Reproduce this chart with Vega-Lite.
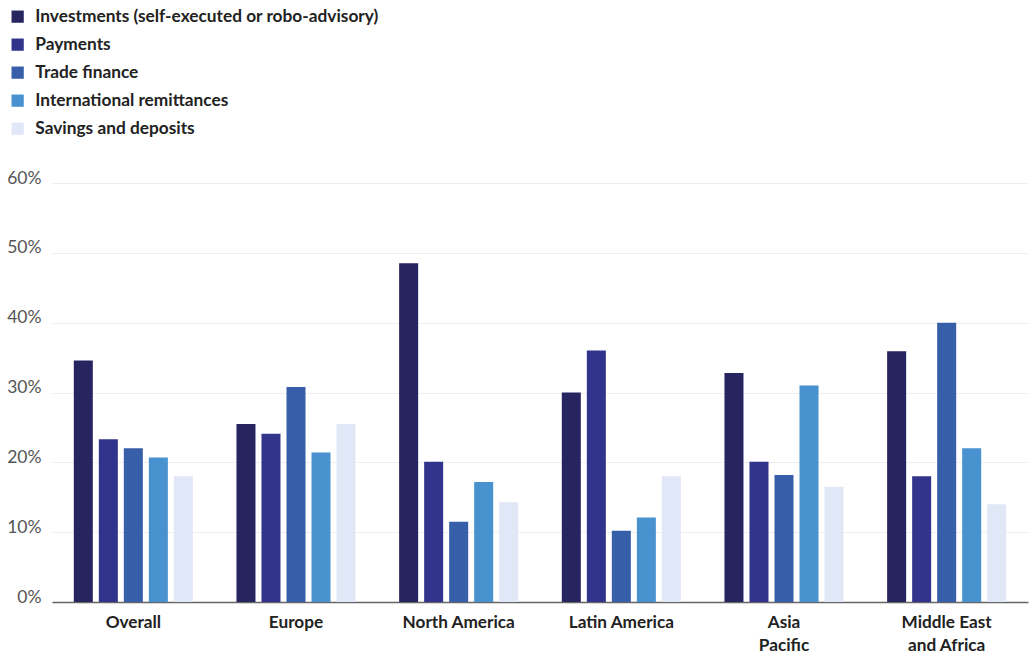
{
  "$schema": "https://vega.github.io/schema/vega-lite/v6.json",
  "width": 976,
  "height": 419,
  "autosize": "none",
  "padding": {"left": 52, "top": 183, "right": 1, "bottom": 55},
  "background": "white",
  "config": {
    "view": {"stroke": null},
    "font": "Lato"
  },
  "data": {
    "values": [
      {"region": "Overall", "product": "Investments (self-executed or robo-advisory)", "share": 34.6},
      {"region": "Overall", "product": "Payments", "share": 23.3},
      {"region": "Overall", "product": "Trade finance", "share": 22.0},
      {"region": "Overall", "product": "International remittances", "share": 20.7},
      {"region": "Overall", "product": "Savings and deposits", "share": 18.0},
      {"region": "Europe", "product": "Investments (self-executed or robo-advisory)", "share": 25.5},
      {"region": "Europe", "product": "Payments", "share": 24.1},
      {"region": "Europe", "product": "Trade finance", "share": 30.8},
      {"region": "Europe", "product": "International remittances", "share": 21.4},
      {"region": "Europe", "product": "Savings and deposits", "share": 25.5},
      {"region": "North America", "product": "Investments (self-executed or robo-advisory)", "share": 48.5},
      {"region": "North America", "product": "Payments", "share": 20.1},
      {"region": "North America", "product": "Trade finance", "share": 11.5},
      {"region": "North America", "product": "International remittances", "share": 17.2},
      {"region": "North America", "product": "Savings and deposits", "share": 14.3},
      {"region": "Latin America", "product": "Investments (self-executed or robo-advisory)", "share": 30.0},
      {"region": "Latin America", "product": "Payments", "share": 36.0},
      {"region": "Latin America", "product": "Trade finance", "share": 10.2},
      {"region": "Latin America", "product": "International remittances", "share": 12.1},
      {"region": "Latin America", "product": "Savings and deposits", "share": 18.0},
      {"region": "Asia|Pacific", "product": "Investments (self-executed or robo-advisory)", "share": 32.8},
      {"region": "Asia|Pacific", "product": "Payments", "share": 20.1},
      {"region": "Asia|Pacific", "product": "Trade finance", "share": 18.2},
      {"region": "Asia|Pacific", "product": "International remittances", "share": 31.0},
      {"region": "Asia|Pacific", "product": "Savings and deposits", "share": 16.5},
      {"region": "Middle East|and Africa", "product": "Investments (self-executed or robo-advisory)", "share": 35.9},
      {"region": "Middle East|and Africa", "product": "Payments", "share": 18.0},
      {"region": "Middle East|and Africa", "product": "Trade finance", "share": 40.0},
      {"region": "Middle East|and Africa", "product": "International remittances", "share": 22.0},
      {"region": "Middle East|and Africa", "product": "Savings and deposits", "share": 14.0}
    ]
  },
  "mark": {"type": "bar"},
  "encoding": {
    "x": {
      "field": "region",
      "type": "nominal",
      "sort": null,
      "scale": {"paddingInner": 0.268, "paddingOuter": 0.134},
      "axis": {
        "title": null,
        "labelAngle": 0,
        "labelExpr": "split(datum.label, '|')",
        "labelFontSize": 17.2,
        "labelFontWeight": "bold",
        "labelColor": "#222222",
        "labelLineHeight": 23,
        "labelPadding": 11,
        "ticks": false,
        "domainColor": "#666666",
        "domainWidth": 1.5
      }
    },
    "xOffset": {
      "field": "product",
      "type": "nominal",
      "sort": null,
      "scale": {"paddingInner": 0.24, "paddingOuter": 0}
    },
    "y": {
      "field": "share",
      "type": "quantitative",
      "scale": {"domain": [0, 60], "nice": false},
      "axis": {
        "title": null,
        "values": [0, 10, 20, 30, 40, 50, 60],
        "labelExpr": "datum.value + '%'",
        "labelFontSize": 17.5,
        "labelColor": "#555555",
        "labelBaseline": "alphabetic",
        "labelPadding": 11,
        "ticks": false,
        "domain": false,
        "gridColor": "#eeeeee",
        "gridWidth": 1
      }
    },
    "color": {
      "field": "product",
      "type": "nominal",
      "sort": null,
      "scale": {
        "domain": [
          "Investments (self-executed or robo-advisory)",
          "Payments",
          "Trade finance",
          "International remittances",
          "Savings and deposits"
        ],
        "range": ["#262560", "#31348A", "#375EA9", "#4792CF", "#E0E7F6"]
      },
      "legend": {
        "title": null,
        "orient": "none",
        "legendX": -43,
        "legendY": -175,
        "direction": "vertical",
        "symbolType": "square",
        "symbolSize": 150,
        "symbolStrokeWidth": 0,
        "labelFontSize": 17.3,
        "labelFontWeight": "bold",
        "labelColor": "#222222",
        "labelOffset": 9,
        "rowPadding": 10,
        "labelLimit": 500
      }
    }
  }
}
